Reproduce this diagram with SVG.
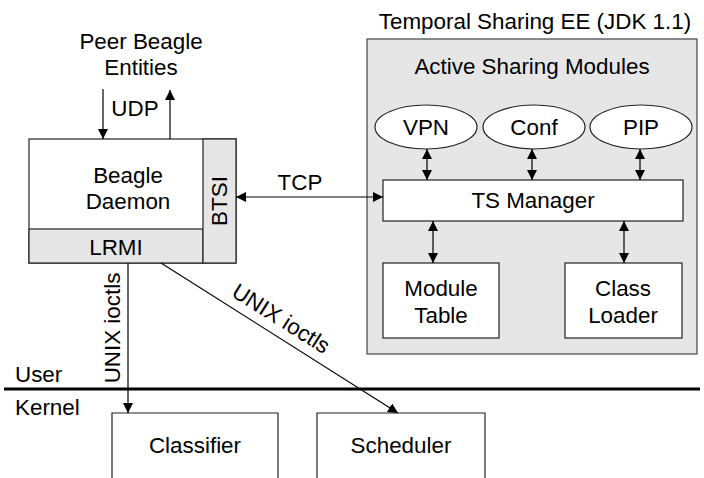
<svg xmlns="http://www.w3.org/2000/svg" width="704" height="478" viewBox="0 0 704 478">
  <style>
    text { font-family: "Liberation Sans", Arial, sans-serif; font-size: 22.4px; fill: #000; }
    .c { text-anchor: middle; }
    .box { fill: #fff; stroke: #222; stroke-width: 1.2; }
    .grey { fill: #e6e6e6; stroke: #222; stroke-width: 1.2; }
    .edge { stroke: #000; stroke-width: 1.2; fill: none; }
  </style>
  <defs>
    <marker id="ah" viewBox="0 0 10 10" refX="10" refY="5" markerWidth="10" markerHeight="10" markerUnits="userSpaceOnUse" orient="auto-start-reverse">
      <path d="M0,0 L10,5 L0,10 z" fill="#000"/>
    </marker>
  </defs>

  <!-- Top labels -->
  <g id="peer">
    <text class="c" x="141" y="49">Peer Beagle</text>
    <text class="c" x="141" y="75">Entities</text>
  </g>
  <text id="ee-title" class="c" x="535" y="29">Temporal Sharing EE (JDK 1.1)</text>

  <!-- Temporal Sharing EE container -->
  <g id="ee">
    <rect x="367" y="39" width="330" height="315" fill="#e6e6e6" stroke="#444" stroke-width="1.2"/>
    <text class="c" x="532" y="74">Active Sharing Modules</text>
  </g>

  <!-- Beagle daemon -->
  <g id="daemon">
    <rect class="box" x="29" y="139" width="207" height="124"/>
    <rect class="grey" x="29" y="229" width="174" height="34"/>
    <rect class="grey" x="203" y="139" width="33" height="124"/>
    <text class="c" x="128" y="183">Beagle</text>
    <text class="c" x="128" y="209">Daemon</text>
    <text class="c" x="116" y="255">LRMI</text>
    <text class="c" transform="translate(227,201) rotate(-90)">BTSI</text>
  </g>

  <!-- Sharing modules -->
  <g id="vpn">
    <ellipse cx="426" cy="127" rx="51" ry="22" fill="#fff" stroke="#222" stroke-width="1.2"/>
    <text class="c" x="426" y="135">VPN</text>
  </g>
  <g id="conf">
    <ellipse cx="534" cy="127" rx="51" ry="22" fill="#fff" stroke="#222" stroke-width="1.2"/>
    <text class="c" x="534" y="135">Conf</text>
  </g>
  <g id="pip">
    <ellipse cx="641" cy="127" rx="51" ry="22" fill="#fff" stroke="#222" stroke-width="1.2"/>
    <text class="c" x="641" y="135">PIP</text>
  </g>

  <g id="ts-manager">
    <rect class="box" x="383" y="180" width="300" height="41"/>
    <text class="c" x="533" y="208">TS Manager</text>
  </g>
  <g id="module-table">
    <rect class="box" x="383" y="263" width="116" height="75"/>
    <text class="c" x="441" y="296">Module</text>
    <text class="c" x="441" y="323">Table</text>
  </g>
  <g id="class-loader">
    <rect class="box" x="565" y="263" width="117" height="75"/>
    <text class="c" x="623" y="296">Class</text>
    <text class="c" x="623" y="323">Loader</text>
  </g>

  <!-- Kernel components -->
  <g id="classifier">
    <path class="box" d="M112,480 V413 H278 V480"/>
    <text class="c" x="195" y="453">Classifier</text>
  </g>
  <g id="scheduler">
    <path class="box" d="M317,480 V413 H485 V480"/>
    <text class="c" x="401" y="453">Scheduler</text>
  </g>

  <!-- User / kernel boundary -->
  <g id="boundary">
    <line x1="4" y1="389" x2="700" y2="389" stroke="#000" stroke-width="3"/>
    <text x="15" y="382">User</text>
    <text x="15" y="415">Kernel</text>
  </g>

  <!-- Connectors -->
  <g id="connectors">
    <line class="edge" x1="103" y1="89" x2="103" y2="139" marker-end="url(#ah)"/>
    <line class="edge" x1="170" y1="139" x2="170" y2="90" marker-end="url(#ah)"/>
    <text class="c" x="135" y="116">UDP</text>

    <line class="edge" x1="236" y1="197" x2="383" y2="197" marker-start="url(#ah)" marker-end="url(#ah)"/>
    <text class="c" x="300" y="190">TCP</text>

    <line class="edge" x1="427" y1="149" x2="427" y2="180" marker-start="url(#ah)" marker-end="url(#ah)"/>
    <line class="edge" x1="532" y1="149" x2="532" y2="180" marker-start="url(#ah)" marker-end="url(#ah)"/>
    <line class="edge" x1="640" y1="149" x2="640" y2="180" marker-start="url(#ah)" marker-end="url(#ah)"/>

    <line class="edge" x1="433" y1="221" x2="433" y2="263" marker-start="url(#ah)" marker-end="url(#ah)"/>
    <line class="edge" x1="624" y1="221" x2="624" y2="263" marker-start="url(#ah)" marker-end="url(#ah)"/>

    <line class="edge" x1="128" y1="263" x2="128" y2="413" marker-end="url(#ah)"/>
    <text class="c" transform="translate(120,328) rotate(-90)">UNIX ioctls</text>

    <line class="edge" x1="161" y1="263" x2="398" y2="413" marker-end="url(#ah)"/>
    <text class="c" transform="translate(277,325) rotate(32.3)">UNIX ioctls</text>
  </g>
</svg>
